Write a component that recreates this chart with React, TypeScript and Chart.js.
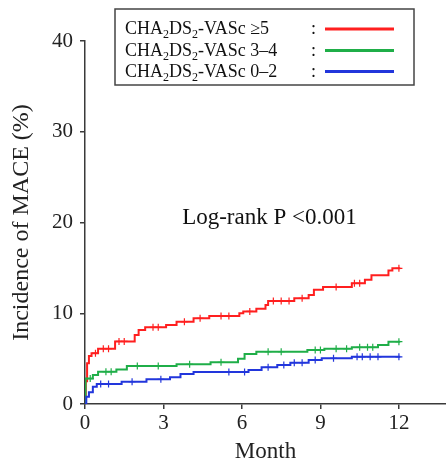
import React, { useEffect, useRef } from "react";
import { Chart, registerables } from "chart.js";

Chart.register(...registerables);

// ---- Data ----
const X_TICKS = [0, 3, 6, 9, 12];
const Y_TICKS = [0, 10, 20, 30, 40];

const GROUP_LABELS = ["≥5", "3–4", "0–2"];
const GROUP_COLORS = ["#ff1f1f", "#1fae48", "#2236dc"];

const RED_TIMES = [0, 0.03, 0.08, 0.15, 0.25, 0.5, 1.15, 1.9, 2.05, 2.3, 3.1, 3.5, 4.15, 4.75, 5.9, 6.05, 6.55, 6.9, 7.0, 8.0, 8.55, 8.75, 9.1, 10.2, 10.7, 10.95, 11.6, 11.75, 12.05];
const RED_VALUES = [0, 2.5, 4.5, 5.3, 5.6, 6.1, 6.9, 7.6, 8.15, 8.45, 8.7, 9.07, 9.44, 9.7, 10.0, 10.2, 10.5, 10.9, 11.35, 11.65, 12.0, 12.6, 12.9, 13.3, 13.7, 14.2, 14.7, 14.95, 14.95];
const RED_CENSOR = [0.4, 0.7, 0.9, 1.3, 1.5, 2.6, 2.8, 3.8, 4.4, 5.2, 5.5, 6.3, 7.2, 7.5, 7.8, 8.3, 9.6, 10.3, 10.5, 12.0];

const GREEN_TIMES = [0, 0.02, 0.3, 0.5, 1.2, 1.6, 3.5, 4.8, 5.85, 6.1, 6.55, 8.5, 9.15, 10.2, 11.2, 11.6, 12.05];
const GREEN_VALUES = [0, 2.8, 3.2, 3.56, 3.8, 4.19, 4.37, 4.6, 5.0, 5.5, 5.77, 5.95, 6.1, 6.25, 6.5, 6.87, 6.87];
const GREEN_CENSOR = [0.2, 0.8, 1.0, 2.0, 2.8, 4.0, 5.2, 7.0, 7.5, 8.8, 9.0, 9.6, 10.0, 10.5, 10.8, 11.0, 12.0];

const BLUE_TIMES = [0, 0.05, 0.15, 0.3, 0.45, 1.4, 2.35, 3.25, 3.65, 4.15, 6.25, 6.75, 7.35, 7.85, 8.55, 9.05, 10.2, 12.05];
const BLUE_VALUES = [0, 0.8, 1.3, 1.9, 2.2, 2.46, 2.72, 2.94, 3.3, 3.53, 3.75, 4.04, 4.3, 4.55, 4.85, 5.03, 5.2, 5.2];
const BLUE_CENSOR = [0.6, 0.9, 1.8, 2.9, 5.5, 6.1, 7.0, 7.6, 8.0, 8.3, 8.8, 9.5, 10.4, 10.6, 10.9, 11.2, 12.0];

const ANNOTATION = "Log-rank P <0.001";
const ANNOT_X = 7.05;
const ANNOT_Y = 19.8;

const SERIF = "'Liberation Serif', 'Times New Roman', serif";
const AXIS_COLOR = "#3a3a3a";

function stepAt(times: number[], values: number[], t: number) {
  let v = values[0];
  for (let i = 0; i < times.length; i++) {
    if (times[i] <= t) v = values[i];
  }
  return v;
}

const GROUPS = [
  { times: RED_TIMES, values: RED_VALUES, censor: RED_CENSOR },
  { times: GREEN_TIMES, values: GREEN_VALUES, censor: GREEN_CENSOR },
  { times: BLUE_TIMES, values: BLUE_VALUES, censor: BLUE_CENSOR },
];

const overlayPlugin = {
  id: "overlay",
  afterDraw(chart: any) {
    const ctx = chart.ctx;
    const xs = chart.scales.x;
    const ys = chart.scales.y;
    ctx.save();
    // annotation
    ctx.fillStyle = "#111";
    ctx.font = `23px ${SERIF}`;
    ctx.textAlign = "center";
    ctx.textBaseline = "alphabetic";
    ctx.fillText(ANNOTATION, xs.getPixelForValue(ANNOT_X), ys.getPixelForValue(ANNOT_Y));

    // legend box
    const bx = 115, by = 9, bw = 299, bh = 76;
    ctx.fillStyle = "#fff";
    ctx.fillRect(bx, by, bw, bh);
    ctx.strokeStyle = "#444";
    ctx.lineWidth = 1.5;
    ctx.strokeRect(bx, by, bw, bh);

    const rowY = [28, 49.5, 70.5];
    ctx.textAlign = "left";
    ctx.textBaseline = "alphabetic";
    GROUP_LABELS.forEach((lab, i) => {
      const base = rowY[i] + 6;
      let x = 125;
      const big = `18px ${SERIF}`;
      const small = `12px ${SERIF}`;
      ctx.fillStyle = "#111";
      const parts: [string, boolean][] = [["CHA", false], ["2", true], ["DS", false], ["2", true], ["-VASc " + lab, false]];
      parts.forEach(([s, sub]) => {
        ctx.font = sub ? small : big;
        ctx.fillText(s, x, sub ? base + 4 : base);
        x += ctx.measureText(s).width;
      });
      ctx.font = big;
      ctx.fillText(":", 311, base);
      ctx.strokeStyle = GROUP_COLORS[i];
      ctx.lineWidth = 3;
      ctx.beginPath();
      ctx.moveTo(325, rowY[i] + 1);
      ctx.lineTo(394, rowY[i] + 1);
      ctx.stroke();
    });
    ctx.restore();
  },
};

export default function App() {
  const ref = useRef<HTMLCanvasElement | null>(null);
  useEffect(() => {
    if (!ref.current) return;
    const datasets: any[] = [];
    GROUPS.forEach((g, i) => {
      datasets.push({
        type: "line",
        data: g.times.map((t, j) => ({ x: t, y: g.values[j] })),
        borderColor: GROUP_COLORS[i],
        borderWidth: 2,
        stepped: true,
        pointRadius: 0,
        fill: false,
        order: 3 - i,
      });
      datasets.push({
        type: "scatter",
        data: g.censor.map((t) => ({ x: t, y: stepAt(g.times, g.values, t) })),
        borderColor: GROUP_COLORS[i],
        backgroundColor: GROUP_COLORS[i],
        pointStyle: "cross",
        pointRadius: 3.5,
        borderWidth: 1.2,
        showLine: false,
        order: 3 - i,
      });
    });
    const chart = new Chart(ref.current, {
      type: "line",
      data: { datasets },
      options: {
        animation: false,
        responsive: false,
        devicePixelRatio: 1,
        layout: { autoPadding: false, padding: { top: 41, right: 0, left: 0, bottom: 0 } },
        plugins: { legend: { display: false }, tooltip: { enabled: false } },
        scales: {
          x: {
            type: "linear",
            min: 0,
            max: 13.8,
            afterFit: (s: any) => { s.height = 60; s.paddingRight = 0; s.paddingLeft = 0; },
            afterBuildTicks: (s: any) => { s.ticks = X_TICKS.map((v) => ({ value: v })); },
            grid: { drawOnChartArea: false, tickLength: 5, color: AXIS_COLOR, lineWidth: 1.5 },
            border: { display: true, color: AXIS_COLOR, width: 1.5 },
            ticks: { color: "#222", font: { family: SERIF, size: 21 }, padding: 2 },
            title: { display: true, text: "Month", color: "#222", font: { family: SERIF, size: 23, lineHeight: 1 }, padding: { top: 0, bottom: 1 } },
          },
          y: {
            type: "linear",
            min: 0,
            max: 40,
            afterFit: (s: any) => { s.width = 85; s.paddingTop = 0; s.paddingBottom = 0; },
            afterBuildTicks: (s: any) => { s.ticks = Y_TICKS.map((v) => ({ value: v })); },
            grid: { drawOnChartArea: false, tickLength: 5, color: AXIS_COLOR, lineWidth: 1.5 },
            border: { display: true, color: AXIS_COLOR, width: 1.5 },
            ticks: { color: "#222", font: { family: SERIF, size: 21 }, padding: 7 },
            title: { display: true, text: "Incidence of MACE (%)", color: "#222", font: { family: SERIF, size: 24, lineHeight: 1 }, padding: { top: 10, bottom: 0 } },
          },
        },
      },
      plugins: [overlayPlugin],
    } as any);
    return () => chart.destroy();
  }, []);
  return (
    <div style={{ position: "fixed", left: 0, top: 0, width: 446, height: 464, background: "#fff" }}>
      <canvas ref={ref} width={446} height={464} />
    </div>
  );
}
